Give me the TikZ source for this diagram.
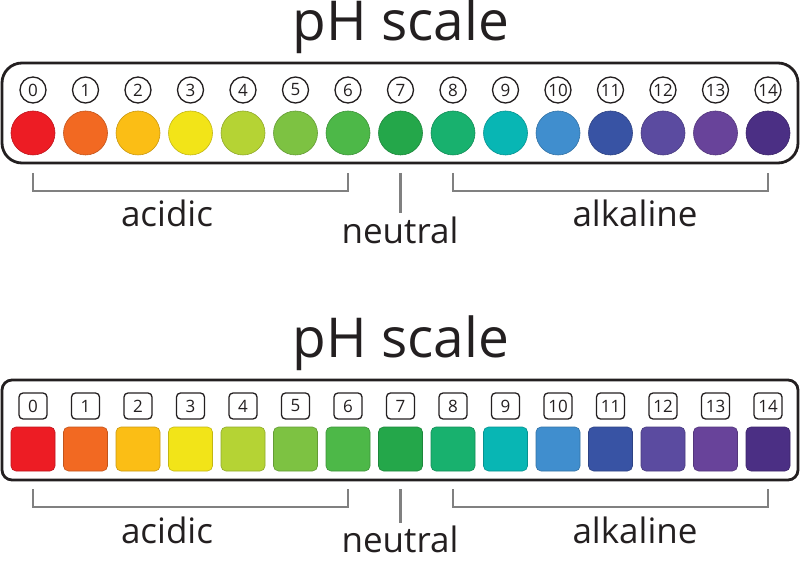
\documentclass[tikz,border=0pt]{standalone}
\usepackage{fontspec}
\setmainfont{Open Sans}
\usepackage{tikz}
\usetikzlibrary{calc}
\definecolor{ink}{RGB}{35,31,32}
\definecolor{bracketgray}{RGB}{128,128,128}
\definecolor{ph0}{RGB}{237,28,36}
\definecolor{ph1}{RGB}{242,105,34}
\definecolor{ph2}{RGB}{251,190,21}
\definecolor{ph3}{RGB}{242,228,24}
\definecolor{ph4}{RGB}{181,211,52}
\definecolor{ph5}{RGB}{125,194,66}
\definecolor{ph6}{RGB}{77,184,72}
\definecolor{ph7}{RGB}{36,167,74}
\definecolor{ph8}{RGB}{24,177,110}
\definecolor{ph9}{RGB}{8,182,180}
\definecolor{ph10}{RGB}{64,142,206}
\definecolor{ph11}{RGB}{56,83,164}
\definecolor{ph12}{RGB}{91,75,160}
\definecolor{ph13}{RGB}{104,67,154}
\definecolor{ph14}{RGB}{75,47,132}

\begin{document}
\begin{tikzpicture}[x=1pt, y=-1pt,
    frame/.style={draw=ink, line width=2.8pt},
    numcirc/.style={circle, draw=ink, line width=1.3pt, minimum size=26pt, inner sep=0pt, text=ink, font=\fontsize{17}{17}\selectfont},
    numbox/.style={rectangle, rounded corners=4pt, draw=ink, line width=1.3pt, minimum width=28pt, minimum height=26pt, inner sep=0pt, text=ink, font=\fontsize{17}{17}\selectfont},
    dot/.style={circle, minimum size=44pt, inner sep=0pt, line width=0.6pt},
    chip/.style={rectangle, rounded corners=5pt, minimum size=44pt, inner sep=0pt, line width=0.6pt},
    brace/.style={draw=bracketgray, line width=2.8pt},
    title/.style={anchor=base, inner sep=0pt, text=ink, font=\fontsize{55}{55}\selectfont},
    word/.style={anchor=base, inner sep=0pt, text=ink, font=\fontsize{35}{35}\selectfont}]
    \useasboundingbox (0,0) rectangle (800,561);

    % Round chart
    \node[title] (title1) at (401,41) {pH scale};
    \draw[frame, rounded corners=20pt] (2,63) rectangle (798,163);
    \foreach \i in {0,...,14} {
        \node[dot, fill=ph\i, draw=ph\i!80!black] (c\i) at ({33+52.5*\i},133) {};
        \node[numcirc] (n\i) at ({33+52.5*\i},90) {\i};
    }

    % Round chart ranges
    \draw[brace] ($(c0)+(0,40)$) -- ++(0,18) -| ($(c6)+(0,40)$);
    \draw[brace] ($(c8)+(0,40)$) -- ++(0,18) -| ($(c14)+(0,40)$);
    \coordinate (neutralend1) at ($(c7)+(0,80)$);
    \draw[brace] ($(c7)+(0,40)$) -- (neutralend1);
    \node[word] (acidic1) at (167,227) {acidic};
    \node[word] (neutral1) at (400,244) {neutral};
    \node[word] (alkaline1) at (635,227) {alkaline};

    % Square chart
    \node[title] (title2) at (401,357) {pH scale};
    \draw[frame, rounded corners=10pt] (2,380) rectangle (798,480);
    \foreach \i in {0,...,14} {
        \node[chip, fill=ph\i, draw=ph\i!80!black] (s\i) at ({33+52.5*\i},449) {};
        \node[numbox] (b\i) at ({33+52.5*\i},406) {\i};
    }

    % Square chart ranges
    \draw[brace] ($(s0)+(0,40)$) -- ++(0,18) -| ($(s6)+(0,40)$);
    \draw[brace] ($(s8)+(0,40)$) -- ++(0,18) -| ($(s14)+(0,40)$);
    \coordinate (neutralend2) at ($(s7)+(0,74)$);
    \draw[brace] ($(s7)+(0,40)$) -- (neutralend2);
    \node[word] (acidic2) at (167,543) {acidic};
    \node[word] (neutral2) at (400,552) {neutral};
    \node[word] (alkaline2) at (635,543) {alkaline};
\end{tikzpicture}
\end{document}
